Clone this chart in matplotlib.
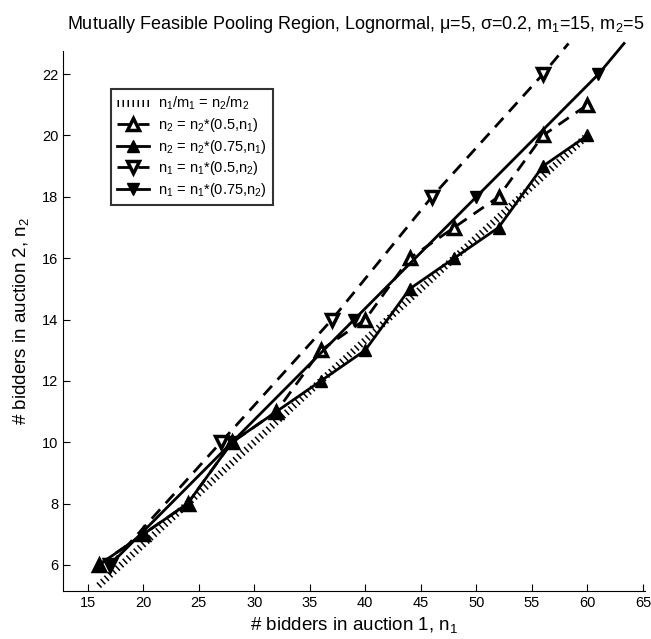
import matplotlib
matplotlib.use("Agg")
import matplotlib.pyplot as plt

plt.rcParams['font.family'] = ['Liberation Sans', 'DejaVu Sans']
plt.rcParams['mathtext.default'] = 'regular'

# ratio line n1/m1 = n2/m2 (m1=15, m2=5)
ratio_n1 = [16, 60]
ratio_n2 = [5.33, 20.0]

# n2 threshold for each n1 (up triangles)
up_n1 = [16, 20, 24, 28, 32, 36, 40, 44, 48, 52, 56, 60]
up_n2_050 = [6, 7, 8, 10, 11, 13, 14, 16, 17, 18, 20, 21]
up_n2_075 = [6, 7, 8, 10, 11, 12, 13, 15, 16, 17, 19, 20]

# n1 threshold for each n2 (down triangles), last point runs off the top
down_n2 = [6, 10, 14, 18, 22, 23]
down_n1_050 = [17, 27, 37, 46, 56, 58.3]
down_n1_075 = [17, 28, 39, 50, 61, 63.3]

labels = ["$n_1/m_1$ = $n_2/m_2$",
          "$n_2$ = $n_2$*(0.5,$n_1$)",
          "$n_2$ = $n_2$*(0.75,$n_1$)",
          "$n_1$ = $n_1$*(0.5,$n_2$)",
          "$n_1$ = $n_1$*(0.75,$n_2$)"]

x_ticks = [15, 20, 25, 30, 35, 40, 45, 50, 55, 60, 65]
y_ticks = [6, 8, 10, 12, 14, 16, 18, 20, 22]

fig = plt.figure(figsize=(6.51, 6.39), dpi=100)
ax = fig.add_axes([0.097, 0.075, 0.894, 0.845])

dash = (0, (4.5, 3))
ax.plot(ratio_n1, ratio_n2, color="black", linewidth=5,
        linestyle=(0, (0.22, 0.5)), solid_capstyle="butt",
        dash_capstyle="butt", label=labels[0])
ax.plot(up_n1, up_n2_050, color="black", linewidth=2, linestyle=dash,
        marker="^", markersize=8, markerfacecolor="white",
        markeredgewidth=2.5, label=labels[1])
ax.plot(up_n1, up_n2_075, color="black", linewidth=2, linestyle="-",
        marker="^", markersize=9, markerfacecolor="black",
        label=labels[2])
ax.plot(down_n1_050, down_n2, color="black", linewidth=2, linestyle=dash,
        marker="v", markersize=8, markerfacecolor="white",
        markeredgewidth=2.5, markevery=[0, 1, 2, 3, 4], clip_on=False,
        label=labels[3])
ax.plot(down_n1_075, down_n2, color="black", linewidth=2, linestyle="-",
        marker="v", markersize=9, markerfacecolor="black",
        markevery=[0, 1, 2, 3, 4], clip_on=False, label=labels[4])

ax.set_xlim(12.8, 65.2)
ax.set_ylim(5.15, 22.75)
ax.set_xticks(x_ticks)
ax.set_yticks(y_ticks)
ax.spines["top"].set_visible(False)
ax.spines["right"].set_visible(False)
ax.tick_params(direction="in", length=5, labelsize=10.5, colors="black")

ax.set_xlabel("# bidders in auction 1, $n_1$", fontsize=13.5, labelpad=4)
ax.set_ylabel("# bidders in auction 2, $n_2$", fontsize=13.5, labelpad=8)
fig.text(0.547, 0.962,
         "Mutually Feasible Pooling Region, Lognormal, \u03bc=5, \u03c3=0.2, $m_1$=15, $m_2$=5",
         ha="center", va="center", fontsize=13)

leg = ax.legend(loc="upper left", bbox_to_anchor=(0.07, 0.943),
                fontsize=10.5, handlelength=2.2, frameon=True, fancybox=False,
                borderpad=0.4, labelspacing=0.25, handletextpad=0.6)
leg.get_frame().set_edgecolor("black")
leg.get_frame().set_linewidth(1.5)

fig.savefig("out.png", dpi=100)
